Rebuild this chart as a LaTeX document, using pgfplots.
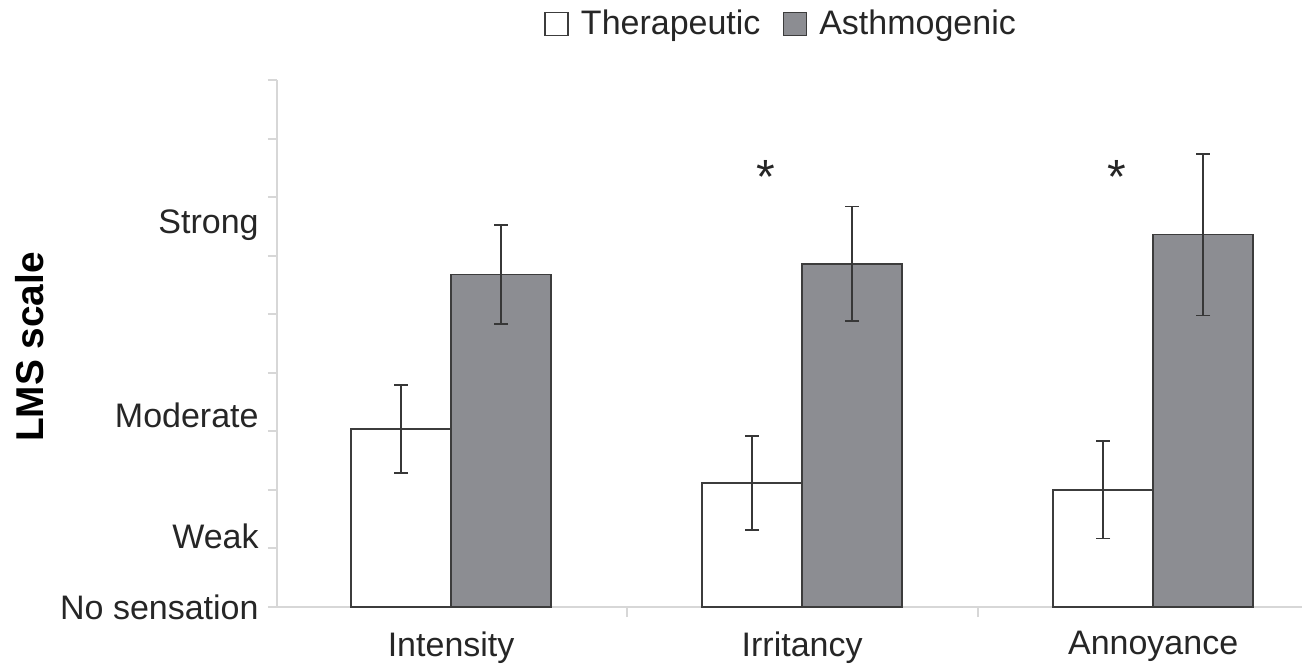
\documentclass[border=0pt]{standalone}
\usepackage{fontspec}
\setmainfont{Liberation Sans}
\usepackage{pgfplots}
\pgfplotsset{compat=1.18}
\definecolor{barA}{RGB}{140,141,146}
\definecolor{edge}{RGB}{60,60,60}
\definecolor{errc}{RGB}{55,55,55}
\definecolor{axisgray}{RGB}{215,215,215}
\begin{document}
\begin{tikzpicture}[x=1pt,y=1pt]
\path[use as bounding box] (-138.5,-29.5) rectangle (512.5,303.5);
\begin{axis}[
  scale only axis, width=512.5pt, height=263.5pt,
  xmin=-0.496, xmax=2.424, ymin=0, ymax=45,
  axis lines*=left,
  axis line style={draw=axisgray, line width=1pt},
  xtick={0,1,2}, xticklabels={Intensity,Irritancy,Annoyance},
  xtick style={draw=none},
  minor xtick={0.5,1.5},
  minor x tick style={draw=axisgray, line width=1pt},
  minor tick length=5pt,
  ytick={0,5,...,45}, yticklabels={},
  ytick style={draw=axisgray, line width=1pt},
  tick align=outside, major tick length=4.5pt,
  extra y ticks={0,6,16.4,32.6},
  extra y tick labels={No sensation,Weak,Moderate,Strong},
  extra y tick style={ytick style={draw=none}},
  ticklabel style={font=\fontsize{17}{20}\selectfont, text=black!85},
  yticklabel style={anchor=east, inner sep=0pt, xshift=-4.5pt},
  xticklabel style={anchor=north, inner sep=0pt, yshift=-7.5pt},
  ylabel={LMS scale},
  ylabel style={at={(axis description cs:-0.241,0.4934)}, anchor=center, font=\fontsize{19.4}{22}\selectfont\bfseries},
  legend style={at={(axis description cs:0.4927,1.1063)}, anchor=center, draw=none, fill=none,
    legend columns=2, font=\fontsize{17}{20}\selectfont, text=black!85,
    /tikz/every odd column/.append style={column sep=4pt},
    /tikz/every even column/.append style={column sep=9pt}},
  legend image code/.code={\draw[#1] (0pt,-5.75pt) rectangle (11.5pt,5.75pt);},
  clip=false,
]
\addplot[ybar, bar width=0.285, bar shift=0, fill=white, draw=edge, line width=0.9pt,
  error bars/.cd, y dir=both, y explicit,
  error bar style={draw=errc, line width=0.9pt},
  error mark options={rotate=90, mark size=3.5pt, draw=errc, line width=0.9pt}]
  coordinates {(-0.1425,15.2) +- (0,3.75) (0.8575,10.6) +- (0,4.0) (1.8575,10.0) +- (0,4.15)};
\addlegendentry{Therapeutic}
\addplot[ybar, bar width=0.285, bar shift=0, fill=barA, draw=edge, line width=0.9pt,
  error bars/.cd, y dir=both, y explicit,
  error bar style={draw=errc, line width=0.9pt},
  error mark options={rotate=90, mark size=3.5pt, draw=errc, line width=0.9pt}]
  coordinates {(0.1425,28.4) +- (0,4.2) (1.1425,29.3) +- (0,4.9) (2.1425,31.8) +- (0,6.9)};
\addlegendentry{Asthmogenic}
\node[font=\fontsize{24}{24}\selectfont, text=black!85] at (axis cs:0.897,36.7) {*};
\node[font=\fontsize{24}{24}\selectfont, text=black!85] at (axis cs:1.897,36.7) {*};
\end{axis}
\end{tikzpicture}
\end{document}
